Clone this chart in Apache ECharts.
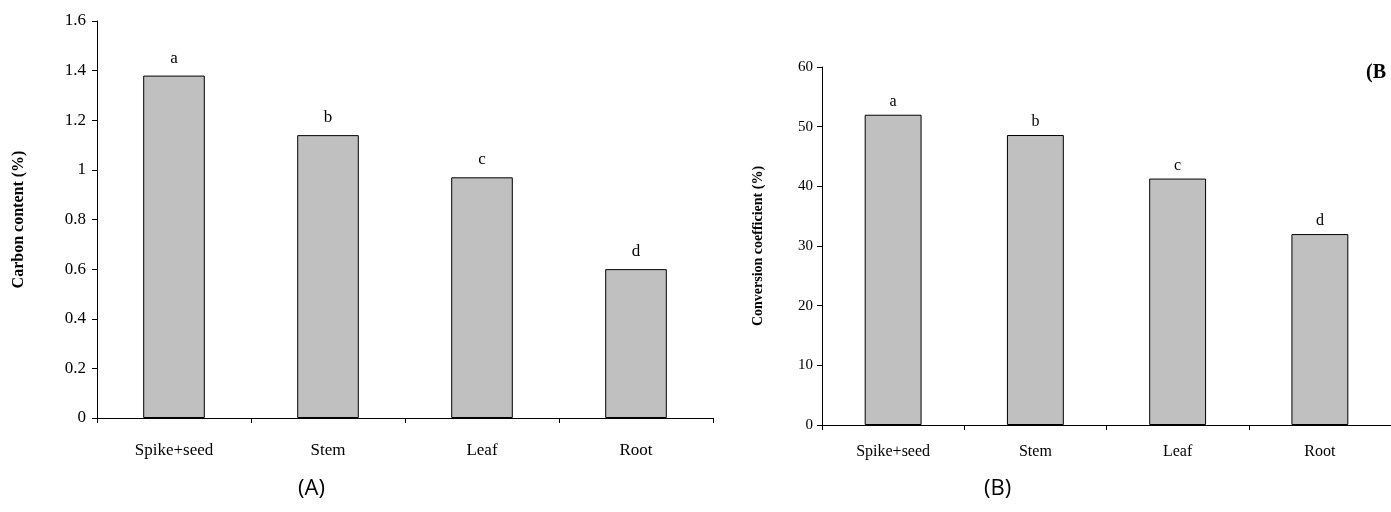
<!DOCTYPE html>
<html>
<head>
<meta charset="utf-8">
<script src="https://cdn.jsdelivr.net/npm/echarts@6/dist/echarts.min.js"></script>
<style>
html,body{margin:0;padding:0;background:#fff;}
#chart{width:1391px;height:512px;}
</style>
</head>
<body>
<div id="chart"></div>
<script>
var categories = ['Spike+seed', 'Stem', 'Leaf', 'Root'];
var carbonContent = [1.38, 1.14, 0.97, 0.60];
var conversionCoef = [52.0, 48.6, 41.3, 32.0];
var letters = ['a', 'b', 'c', 'd'];
var carbonTicks = { min: 0, max: 1.6, interval: 0.2 };
var convTicks = { min: 0, max: 60, interval: 10 };

var serif = '"Liberation Serif", "Times New Roman", serif';
var chart = echarts.init(document.getElementById('chart'));

function mkData(vals) {
  return vals.map(function (v, i) { return { value: v, letter: letters[i] }; });
}
function xAxis(idx, margin, fs) {
  return {
    type: 'category', gridIndex: idx, data: categories,
    axisLine: { lineStyle: { color: '#000', width: 1 } },
    axisTick: { show: true, length: 5, lineStyle: { color: '#000' } },
    axisLabel: { color: '#000', fontFamily: serif, fontSize: fs, margin: margin },
    splitLine: { show: false }
  };
}
function yAxis(idx, t, name, nameGap, nfs, lfs, lm) {
  return {
    type: 'value', gridIndex: idx, min: t.min, max: t.max, interval: t.interval,
    name: name, nameLocation: 'middle', nameRotate: 90, nameGap: nameGap,
    nameTextStyle: { color: '#000', fontFamily: serif, fontWeight: 'bold', fontSize: nfs },
    axisLine: { show: true, lineStyle: { color: '#000', width: 1 } },
    axisTick: { show: true, length: 5, lineStyle: { color: '#000' } },
    axisLabel: { color: '#000', fontFamily: serif, fontSize: lfs, margin: lm },
    splitLine: { show: false }
  };
}
function bars(idx, vals, dist, fs) {
  return {
    type: 'bar', xAxisIndex: idx, yAxisIndex: idx, data: mkData(vals),
    barWidth: '40%',
    itemStyle: { color: '#c0c0c0', borderColor: '#000', borderWidth: 1 },
    label: {
      show: true, position: 'top', distance: dist, color: '#000',
      fontFamily: serif, fontSize: fs,
      formatter: function (p) { return p.data.letter; }
    },
    silent: true, animation: false
  };
}

chart.setOption({
  animation: false,
  grid: [
    { left: 97, top: 21, width: 616, height: 397 },
    { left: 822, top: 67, width: 572, height: 358 }
  ],
  xAxis: [xAxis(0, 24, 17), xAxis(1, 19, 16)],
  yAxis: [
    yAxis(0, carbonTicks, 'Carbon content (%)', 70, 16, 17, 11),
    yAxis(1, convTicks, 'Conversion coefficient (%)', 57, 14, 15, 9)
  ],
  series: [bars(0, carbonContent, 9, 17), bars(1, conversionCoef, 5, 16)],
  graphic: [
    { type: 'text', left: 298, top: 478, style: { text: '(A)', font: '22px "Open Sans", "Noto Sans", sans-serif', fill: '#000' } },
    { type: 'text', left: 984, top: 478, style: { text: '(B)', font: '22px "Open Sans", "Noto Sans", sans-serif', fill: '#000' } },
    { type: 'text', left: 1366, top: 63, style: { text: '(B', font: 'bold 20px "Liberation Serif", serif', fill: '#000' } }
  ]
});
</script>
</body>
</html>
